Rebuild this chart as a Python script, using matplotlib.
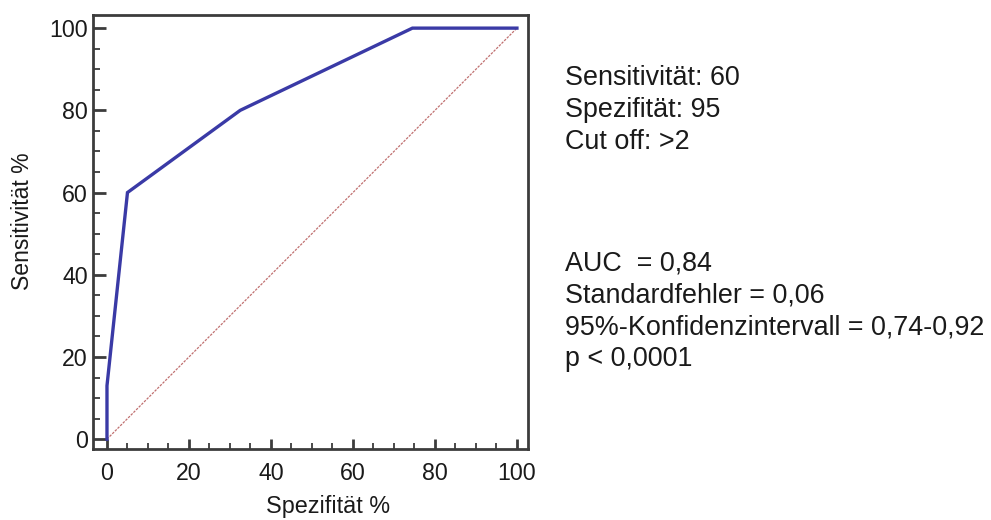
import matplotlib
matplotlib.use("Agg")
import matplotlib.pyplot as plt
from matplotlib.ticker import MultipleLocator

plt.rcParams['font.family'] = ['Liberation Sans', 'DejaVu Sans']

# ROC curve (100 - specificity on x, sensitivity on y)
fpr = [0, 0, 5, 32.5, 74.5, 100]
tpr = [0, 13, 60, 80, 100, 100]
diag = [0, 100]

stats_top = ["Sensitivität: 60", "Spezifität: 95", "Cut off: >2"]
stats_bottom = ["AUC  = 0,84", "Standardfehler = 0,06",
                "95%-Konfidenzintervall = 0,74-0,92", "p < 0,0001"]

fig = plt.figure(figsize=(9.91, 5.2), dpi=100)
ax = fig.add_axes([0.0943, 0.1365, 0.4385, 0.8347])

ax.plot(diag, diag, color='#c07070', lw=0.9, ls=(0, (2, 1)))
ax.plot(fpr, tpr, color='#3a3aa6', lw=2.4, solid_joinstyle='miter')

ax.set_xlim(-3.3, 102.7)
ax.set_ylim(-2.4, 103.2)
ax.xaxis.set_major_locator(MultipleLocator(20))
ax.xaxis.set_minor_locator(MultipleLocator(5))
ax.yaxis.set_major_locator(MultipleLocator(20))
ax.yaxis.set_minor_locator(MultipleLocator(5))

spine_col = '#3c3c3c'
for s in ax.spines.values():
    s.set_color(spine_col)
    s.set_linewidth(2.0)

ax.tick_params(axis='x', which='major', direction='in', length=7.5, width=2.0,
               color=spine_col, labelsize=16.7, pad=9, labelcolor='#1a1a1a')
ax.tick_params(axis='x', which='minor', direction='in', length=4.0, width=1.3,
               color=spine_col)
ax.tick_params(axis='y', which='major', direction='in', length=9, width=2.0,
               color=spine_col, labelsize=16.7, pad=4, labelcolor='#1a1a1a')
ax.tick_params(axis='y', which='minor', direction='in', length=5.0, width=1.3,
               color=spine_col)
ax.tick_params(top=False, right=False, which='both')

fig.text(328 / 991, 1 - 506 / 520, "Spezifität %", ha='center', va='center',
         fontsize=16.8, color='#1a1a1a')
fig.text(22.5 / 991, 1 - 221 / 520, "Sensitivität %", ha='center', va='center',
         rotation=90, fontsize=16.6, color='#1a1a1a')

x0 = 565 / 991
for i, line in enumerate(stats_top):
    fig.text(x0, 1 - (78 + 32 * i) / 520, line, ha='left', va='center',
             fontsize=19.4, color='#1a1a1a')
for i, line in enumerate(stats_bottom):
    fig.text(x0, 1 - (264 + 31.7 * i) / 520, line, ha='left', va='center',
             fontsize=19.4, color='#1a1a1a')

fig.savefig("out.png", dpi=100)
